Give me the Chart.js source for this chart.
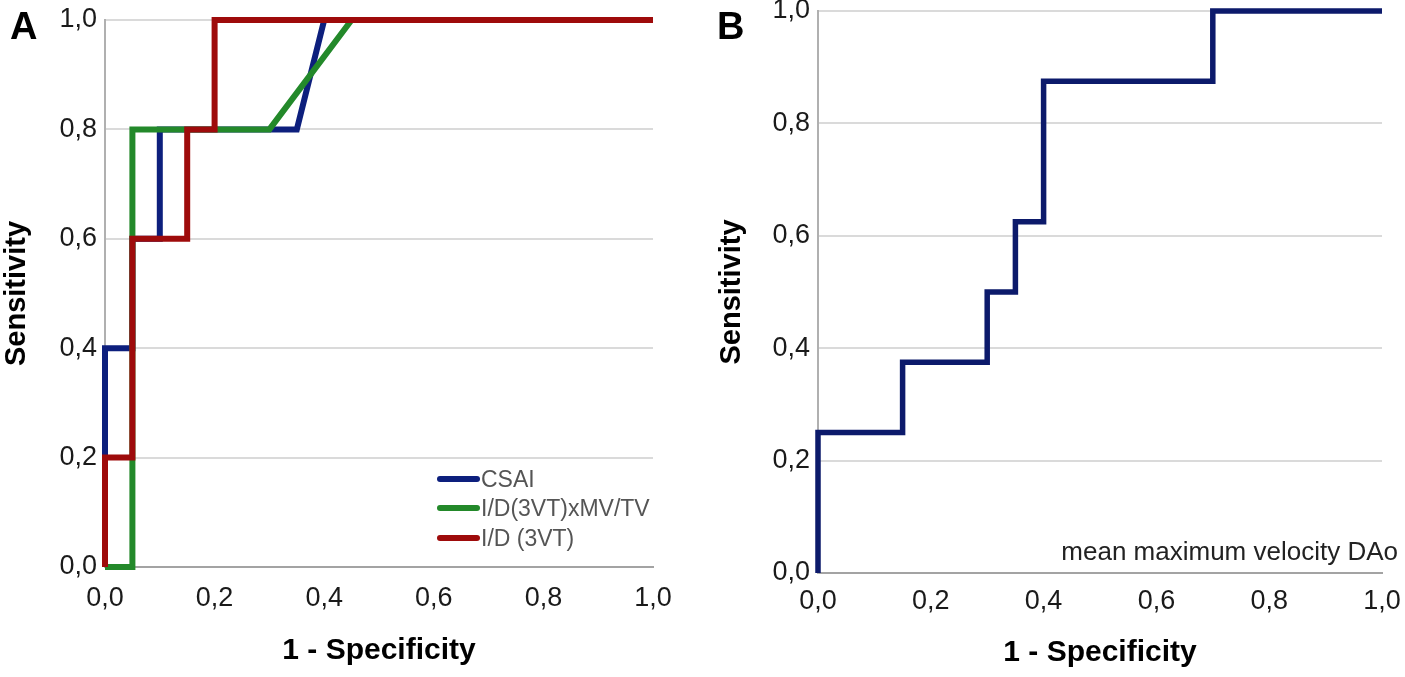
<!DOCTYPE html>
<html><head><meta charset="utf-8">
<script src="https://cdn.jsdelivr.net/npm/chart.js@4.4.1/dist/chart.umd.min.js"></script>
<style>
html,body{margin:0;padding:0;background:#fff;width:1405px;height:677px;overflow:hidden}
.panel{position:absolute;top:0;height:677px}
#pA{left:0;width:700px}
#pB{left:700px;width:705px}
.lbl{position:absolute;font:bold 38px "Liberation Sans",Arial,sans-serif;line-height:1;color:#000}
</style></head><body>
<div class="panel" id="pA"><canvas id="cA"></canvas></div>
<div class="panel" id="pB"><canvas id="cB"></canvas></div>
<div class="lbl" style="left:10px;top:7px">A</div>
<div class="lbl" style="left:717px;top:7px">B</div>
<script>
// ---- data ----
const tickLabels = ['0,0', '0,2', '0,4', '0,6', '0,8', '1,0'];
const xTitle = '1 - Specificity';
const yTitle = 'Sensitivity';

const seriesNamesA = ['CSAI', 'I/D(3VT)xMV/TV', 'I/D (3VT)'];
const csaiX = [0, 0, 0.05, 0.05, 0.1, 0.1, 0.35, 0.4, 1];
const csaiY = [0, 0.4, 0.4, 0.6, 0.6, 0.8, 0.8, 1, 1];
const mvtvX = [0, 0.05, 0.05, 0.3, 0.45, 1];
const mvtvY = [0, 0, 0.8, 0.8, 1, 1];
const id3vtX = [0, 0, 0.05, 0.05, 0.15, 0.15, 0.2, 0.2, 1];
const id3vtY = [0, 0.2, 0.2, 0.6, 0.6, 0.8, 0.8, 1, 1];

const seriesNameB = 'mean maximum velocity DAo';
const daoX = [0, 0, 0.15, 0.15, 0.3, 0.3, 0.35, 0.35, 0.4, 0.4, 0.7, 0.7, 1];
const daoY = [0, 0.25, 0.25, 0.375, 0.375, 0.5, 0.5, 0.625, 0.625, 0.875, 0.875, 1, 1];

// ---- styling ----
const FONT = '"Liberation Sans", Arial, sans-serif';
const colorsA = ['#0d1f7d', '#23892a', '#9e0b0b'];
const colorB = '#0c1a6b';

function pts(xs, ys) { return xs.map((x, i) => ({x: x, y: ys[i]})); }

function makeScales(cfg) {
  return {
    x: {
      type: 'linear', min: 0, max: 1,
      afterFit: s => { s.height = cfg.xh; s.paddingLeft = 0; s.paddingRight = 0; s.paddingTop = 0; s.paddingBottom = 0; },
      afterBuildTicks: s => { s.ticks = tickLabels.map((t, i) => ({value: i * 0.2})); },
      ticks: {
        callback: (v, i) => tickLabels[i],
        color: '#1a1a1a', font: {family: FONT, size: 27}, padding: cfg.xpad, maxRotation: 0, autoSkip: false
      },
      grid: {display: false, drawTicks: false},
      border: {display: true, color: '#a3a3a3', width: 2},
      title: {display: true, text: xTitle, color: '#000', font: {family: FONT, size: 30, weight: 'bold'}, padding: {top: 0, bottom: cfg.xtpad}}
    },
    y: {
      type: 'linear', min: 0, max: 1,
      afterFit: s => { s.width = cfg.yw; s.paddingTop = 0; s.paddingBottom = 0; s.paddingLeft = 0; s.paddingRight = 0; },
      afterBuildTicks: s => { s.ticks = tickLabels.map((t, i) => ({value: i * 0.2})); },
      ticks: {
        callback: (v, i) => tickLabels[i],
        color: '#1a1a1a', font: {family: FONT, size: 27}, padding: 8, autoSkip: false
      },
      grid: {display: true, drawTicks: false, color: '#dadada', lineWidth: 2},
      border: {display: true, color: '#b0b0b0', width: 2},
      title: {display: true, text: yTitle, color: '#000', font: {family: FONT, size: 29, weight: 'bold'}, padding: {top: cfg.ytpad, bottom: 0}}
    }
  };
}

const legendA = {
  id: 'legendA',
  afterDraw(chart) {
    const ctx = chart.ctx, a = chart.chartArea;
    ctx.save();
    ctx.font = '23px ' + FONT;
    ctx.textBaseline = 'middle';
    ctx.textAlign = 'left';
    const offs = [88, 59, 29];
    seriesNamesA.forEach((name, i) => {
      const y = a.bottom - offs[i];
      ctx.strokeStyle = colorsA[i];
      ctx.lineWidth = 6;
      ctx.lineCap = 'round';
      ctx.beginPath();
      ctx.moveTo(a.right - 213, y);
      ctx.lineTo(a.right - 176, y);
      ctx.stroke();
      ctx.fillStyle = '#555';
      ctx.fillText(name, a.right - 172, y + 2);
    });
    ctx.restore();
  }
};

const legendB = {
  id: 'legendB',
  afterDraw(chart) {
    const ctx = chart.ctx, a = chart.chartArea;
    ctx.save();
    ctx.font = '26px ' + FONT;
    ctx.textBaseline = 'middle';
    ctx.textAlign = 'right';
    ctx.fillStyle = '#222';
    ctx.fillText(seriesNameB, a.right + 16, a.bottom - 20);
    ctx.restore();
  }
};

const lineDs = (label, xs, ys, color, order, w) => ({
  label: label, data: pts(xs, ys), borderColor: color, backgroundColor: color,
  borderWidth: w, pointRadius: 0, showLine: true, fill: false, tension: 0,
  borderJoinStyle: 'miter', borderCapStyle: 'butt', clip: false, order: order
});

new Chart(document.getElementById('cA'), {
  type: 'scatter',
  data: {datasets: [
    lineDs(seriesNamesA[0], csaiX, csaiY, colorsA[0], 3, 6),
    lineDs(seriesNamesA[1], mvtvX, mvtvY, colorsA[1], 2, 6),
    lineDs(seriesNamesA[2], id3vtX, id3vtY, colorsA[2], 1, 6)
  ]},
  options: {
    responsive: true, maintainAspectRatio: false, animation: false, devicePixelRatio: 1,
    layout: {padding: {left: 0, top: 20, right: 47, bottom: 0}},
    plugins: {legend: {display: false}, tooltip: {enabled: false}},
    scales: makeScales({xh: 110, yw: 105, xpad: 15, xtpad: 8, ytpad: 0})
  },
  plugins: [legendA]
});

new Chart(document.getElementById('cB'), {
  type: 'scatter',
  data: {datasets: [lineDs(seriesNameB, daoX, daoY, colorB, 1, 5.5)]},
  options: {
    responsive: true, maintainAspectRatio: false, animation: false, devicePixelRatio: 1,
    layout: {padding: {left: 0, top: 11, right: 23, bottom: 0}},
    plugins: {legend: {display: false}, tooltip: {enabled: false}},
    scales: makeScales({xh: 104, yw: 118, xpad: 12, xtpad: 6, ytpad: 15})
  },
  plugins: [legendB]
});
</script>
</body></html>
